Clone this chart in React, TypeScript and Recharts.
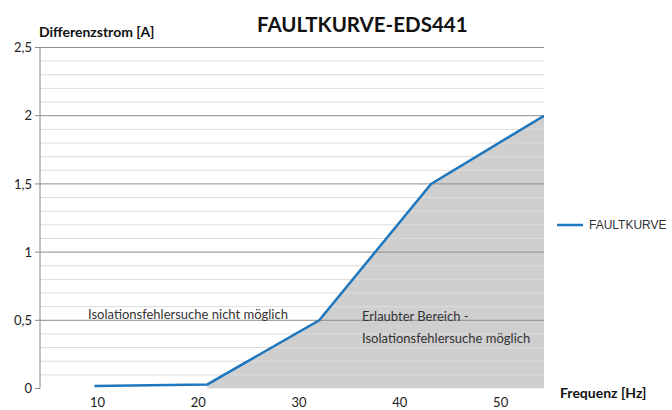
import {
  Area,
  ComposedChart,
  Legend,
  Line,
  ReferenceLine,
  XAxis,
  YAxis,
} from "recharts";

// Frequenz [Hz] / Differenzstrom [A]
const frequencies = [9.7, 20.9, 32, 43.1, 54.3];
const currents = [0.018, 0.03, 0.5, 1.5, 2];

const xTicks = [10, 20, 30, 40, 50];
const xTickMarks = [4.3, 14.3, 24.3, 34.3, 44.3, 54.3];
const yTicks = [0, 0.5, 1, 1.5, 2, 2.5];
const yMinor = [
  0.1, 0.2, 0.3, 0.4, 0.6, 0.7, 0.8, 0.9, 1.1, 1.2, 1.3, 1.4, 1.6, 1.7, 1.8,
  1.9, 2.1, 2.2, 2.3, 2.4,
];

const lineData = frequencies.map((f, i) => ({ f, value: currents[i] }));
// shaded "allowed" region starts where the curve leaves zero
const areaData = lineData.slice(1);

const FONT = "Lato, 'Open Sans', sans-serif";
const BLUE = "#1F77BE";

function LegendContent() {
  return (
    <div style={{ display: "flex", alignItems: "center", fontFamily: "'Liberation Sans', Arial, sans-serif", fontSize: 12, color: "#333" }}>
      <svg width={32} height={10}>
        <line x1={0} y1={5} x2={26} y2={5} stroke={BLUE} strokeWidth={2.5} />
      </svg>
      <span>FAULTKURVE</span>
    </div>
  );
}

export default function App() {
  return (
    <div style={{ position: "absolute", left: 0, top: 0, width: 672, height: 410, fontFamily: FONT, background: "#fff" }}>
      <div style={{ position: "absolute", left: 257, top: 12, fontWeight: 700, fontSize: 20.5, lineHeight: "24px", color: "#111" }}>
        FAULTKURVE-EDS441
      </div>
      <div style={{ position: "absolute", left: 39, top: 23, fontWeight: 700, fontSize: 14, lineHeight: "17px", color: "#111" }}>
        Differenzstrom [A]
      </div>
      <div style={{ position: "absolute", left: 560, top: 384, fontWeight: 700, fontSize: 14, lineHeight: "17px", color: "#111" }}>
        Frequenz [Hz]
      </div>
      <div style={{ position: "absolute", left: 88, top: 305, fontSize: 13, lineHeight: "18px", color: "#333", zIndex: 2 }}>
        Isolationsfehlersuche nicht möglich
      </div>
      <div style={{ position: "absolute", left: 362, top: 305, fontSize: 13, lineHeight: "22px", color: "#333", zIndex: 2 }}>
        Erlaubter Bereich -<br />
        Isolationsfehlersuche möglich
      </div>
      <ComposedChart
        width={672}
        height={410}
        margin={{ top: 47.5, right: 128, bottom: 1.5, left: 0 }}
      >
        <XAxis
          type="number"
          dataKey="f"
          domain={[4.3, 54.3]}
          ticks={xTickMarks}
          tickFormatter={() => ""}
          height={0}
          tickSize={5}
          stroke="#888"
          allowDataOverflow
        />
        <XAxis
          xAxisId="labels"
          type="number"
          dataKey="f"
          domain={[4.3, 54.3]}
          ticks={xTicks}
          height={20}
          axisLine={false}
          tickLine={false}
          tickMargin={3}
          tick={{ fill: "#222", fontSize: 13, fontFamily: FONT }}
          allowDataOverflow
        />
        <YAxis
          type="number"
          domain={[0, 2.5]}
          ticks={yTicks}
          width={40}
          tickSize={5}
          tickMargin={3}
          stroke="#888"
          tick={{ fill: "#222", fontSize: 13, fontFamily: FONT }}
          tickFormatter={(v) => String(v).replace(".", ",")}
          allowDataOverflow
        />
        <Area
          data={areaData}
          dataKey="value"
          type="linear"
          fill="#cfcfcf"
          fillOpacity={1}
          stroke="none"
          isAnimationActive={false}
          legendType="none"
        />
        {yMinor.map((v) => (
          <ReferenceLine key={`m${v}`} y={v} stroke="#dcdcdc" strokeWidth={1} />
        ))}
        {yTicks.slice(1).map((v) => (
          <ReferenceLine key={`M${v}`} y={v} stroke="#8c8c8c" strokeWidth={1} />
        ))}
        <Line
          data={lineData}
          dataKey="value"
          type="linear"
          stroke={BLUE}
          strokeWidth={2.5}
          dot={false}
          activeDot={false}
          isAnimationActive={false}
          name="FAULTKURVE"
        />
        <Legend
          layout="horizontal"
          verticalAlign="middle"
          align="center"
          wrapperStyle={{ left: 557, top: 218, width: 115 }}
          content={() => <LegendContent />}
        />
      </ComposedChart>
    </div>
  );
}
